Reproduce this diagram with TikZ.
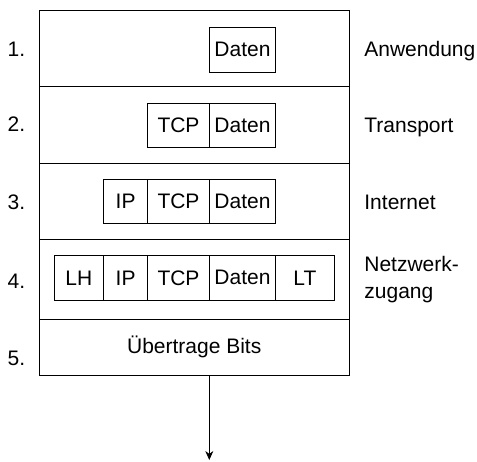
\documentclass[tikz,border=0pt]{standalone}
\usepackage{fontspec}
\setmainfont{Liberation Sans}
\usetikzlibrary{arrows.meta,positioning}

\begin{document}
\begin{tikzpicture}[x=1pt, y=-1pt, line width=0.8pt,
  every node/.style={font=\fontsize{21}{27}\selectfont},
  layer/.style={draw, minimum width=309.5pt, inner sep=0pt, outer sep=0pt},
  cell/.style={draw, minimum height=44.5pt, inner sep=0pt, outer sep=0pt},
  lbl/.style={text depth=0pt, inner sep=0pt}]
  \useasboundingbox (0,0) rectangle (477,461);
  % Layers
  \node[layer, minimum height=76pt] (l1) at (194.25,48) {};
  \node[layer, minimum height=77pt, below=0pt of l1] (l2) {};
  \node[layer, minimum height=76pt, below=0pt of l2] (l3) {};
  \node[layer, minimum height=80pt, below=0pt of l3] (l4) {};
  \node[layer, minimum height=56pt, below=0pt of l4] (l5) {\"Ubertrage Bits};
  % Packets
  \node[cell, minimum width=66.5pt] (d1) at (242.5,49.7) {Daten};
  \node[cell, minimum width=66.5pt] (d2) at (242.5,125.5) {Daten};
  \node[cell, minimum width=61.5pt, left=0pt of d2] (t2) {TCP};
  \node[cell, minimum width=66.5pt] (d3) at (242.5,201.5) {Daten};
  \node[cell, minimum width=61.5pt, left=0pt of d3] (t3) {TCP};
  \node[cell, minimum width=44.3pt, left=0pt of t3] (i3) {IP};
  \node[cell, minimum width=66.5pt] (d4) at (242.5,277.8) {Daten};
  \node[cell, minimum width=61.5pt, left=0pt of d4] (t4) {TCP};
  \node[cell, minimum width=44.3pt, left=0pt of t4] (i4) {IP};
  \node[cell, minimum width=49.3pt, left=0pt of i4] (lh4) {LH};
  \node[cell, minimum width=58.3pt, right=0pt of d4] (lt4) {LT};
  % Numbers
  \node[lbl, left=14pt of l1, yshift=-1pt] (n1) {1.};
  \node[lbl, left=14pt of l2] (n2) {2.};
  \node[lbl, left=14pt of l3, yshift=-1pt] (n3) {3.};
  \node[lbl, left=14pt of l4, yshift=-2pt] (n4) {4.};
  \node[lbl, left=14pt of l5, yshift=-11pt] (n5) {5.};
  % Layer names
  \node[lbl, right=15pt of l1, yshift=-1pt] (a1) {Anwendung};
  \node[lbl, right=15pt of l2, yshift=-1pt] (a2) {Transport};
  \node[lbl, right=15pt of l3, yshift=-1pt] (a3) {Internet};
  \node[lbl, right=15pt of l4, align=left, yshift=2pt] (a4) {Netzwerk-\\zugang};
  % Output
  \coordinate (out) at (209.3,460);
  \draw[-{Stealth[length=9pt,width=8pt]}] (l5.south -| out) -- (out);
\end{tikzpicture}
\end{document}
